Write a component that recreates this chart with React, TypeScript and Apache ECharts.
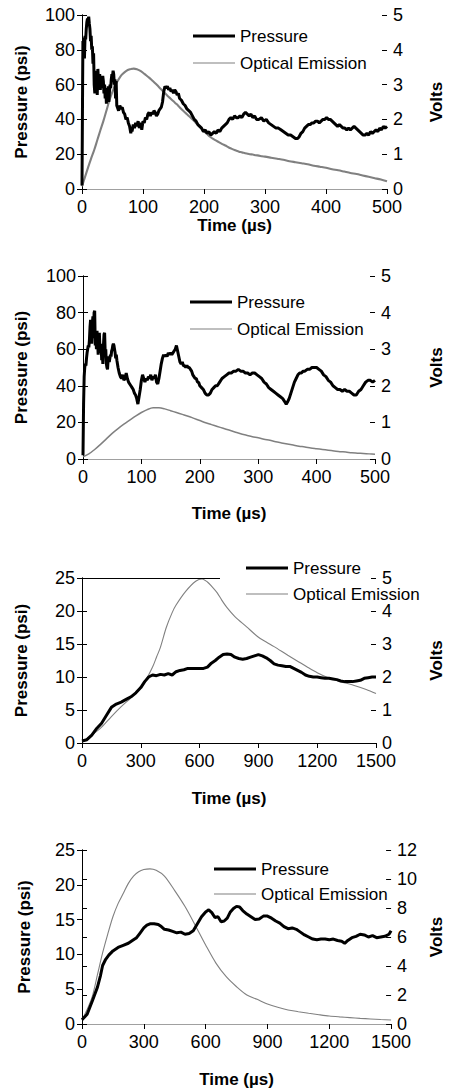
import React, { useEffect, useRef } from "react";
import * as echarts from "echarts";

// ---------- Data (time in µs, pressure in psi, optical emission in volts) ----------
const seriesNames = ["Pressure", "Optical Emission"];

const p1Pressure = [
  [0, 2], [0.5, 30], [1, 60], [1.5, 85], [2, 80], [3, 87], [4, 75], [5, 88], [6, 86], [7, 92], [8, 96], [9, 98], [10, 97], [11, 99], [12, 95], [13, 92], [14, 85], [15, 88], [16, 80], [17, 82], [18, 72], [19, 78], [20, 60], [21, 55], [22, 68], [23, 58], [24, 63], [25, 54], [26, 69], [27, 62], [28, 60], [29, 66], [30, 57], [31, 63], [32, 61], [33, 58], [34, 65], [35, 62], [36, 55], [37, 60], [38, 52], [39, 58], [40, 49], [41, 57], [42, 53], [43, 59], [44, 50], [45, 56], [46, 60], [47, 58], [48, 63], [49, 66], [50, 65], [51, 68], [52, 66], [53, 60], [54, 63], [55, 52], [56, 62], [57, 48], [58, 47], [60, 45], [62, 48], [64, 46], [66, 47], [68, 44], [70, 43], [72, 40], [74, 41], [76, 38], [78, 36], [80, 32], [81, 35], [82, 33], [84, 37], [86, 35], [88, 38], [90, 36], [92, 39], [94, 35], [96, 38], [98, 34], [100, 39], [102, 38], [104, 41], [106, 40], [108, 43], [110, 44], [112, 42], [114, 44], [116, 43], [118, 45], [120, 44], [122, 42], [124, 43], [126, 45], [128, 46], [130, 47], [132, 50], [134, 56], [136, 59], [138, 58], [140, 59], [142, 57], [144, 58], [146, 56], [148, 57], [150, 55], [152, 57], [154, 56], [156, 54], [158, 55], [160, 52], [163, 51], [166, 49], [169, 48], [172, 46], [175, 45], [178, 44], [181, 42], [184, 40], [187, 39], [190, 37], [193, 36], [196, 35], [199, 33], [202, 34], [205, 32], [208, 33], [211, 31], [214, 32], [217, 33], [220, 32], [223, 34], [226, 33], [229, 35], [232, 36], [235, 37], [238, 38], [241, 40], [244, 41], [247, 40], [250, 42], [253, 41], [256, 41], [259, 42], [262, 41], [265, 43], [268, 44], [271, 43], [274, 42], [277, 43], [280, 41], [283, 42], [286, 40], [290, 40], [294, 41], [298, 39], [302, 40], [306, 38], [310, 37], [314, 36], [318, 35], [322, 35], [326, 34], [330, 33], [334, 32], [338, 31], [342, 31], [346, 30], [350, 29], [353, 29], [356, 30], [359, 32], [362, 33], [365, 35], [368, 36], [371, 37], [374, 37], [377, 38], [380, 38], [383, 39], [386, 39], [389, 38], [392, 39], [395, 40], [398, 40], [401, 41], [404, 40], [407, 40], [410, 39], [413, 38], [416, 37], [419, 36], [422, 37], [425, 36], [428, 35], [431, 35], [434, 34], [437, 35], [440, 34], [443, 35], [446, 36], [449, 35], [452, 34], [455, 33], [458, 32], [461, 31], [464, 31], [467, 32], [470, 31], [473, 33], [476, 32], [479, 33], [482, 34], [485, 33], [488, 35], [491, 34], [494, 36], [497, 35], [500, 36],
];
const p1Optical = [
  [0, 0.08], [5, 0.35], [10, 0.62], [15, 0.88], [20, 1.12], [25, 1.4], [30, 1.68], [35, 1.95], [40, 2.25], [45, 2.55], [50, 2.8], [55, 3.0], [60, 3.15], [65, 3.28], [70, 3.36], [75, 3.42], [80, 3.45], [85, 3.46], [90, 3.44], [95, 3.4], [100, 3.34], [105, 3.27], [110, 3.2], [115, 3.12], [120, 3.04], [125, 2.95], [130, 2.86], [135, 2.77], [140, 2.68], [145, 2.6], [150, 2.52], [155, 2.44], [160, 2.35], [165, 2.26], [170, 2.18], [175, 2.1], [180, 2.02], [185, 1.93], [190, 1.84], [195, 1.75], [200, 1.66], [205, 1.58], [210, 1.5], [215, 1.44], [220, 1.39], [225, 1.34], [230, 1.29], [235, 1.25], [240, 1.2], [245, 1.16], [250, 1.12], [255, 1.09], [260, 1.06], [265, 1.04], [270, 1.02], [275, 1.0], [280, 0.99], [285, 0.97], [290, 0.96], [295, 0.94], [300, 0.93], [310, 0.9], [320, 0.87], [330, 0.84], [340, 0.8], [350, 0.77], [360, 0.74], [370, 0.71], [380, 0.67], [390, 0.64], [400, 0.61], [410, 0.57], [420, 0.54], [430, 0.5], [440, 0.46], [450, 0.43], [460, 0.39], [470, 0.35], [480, 0.31], [490, 0.27], [500, 0.22],
];

const p2Pressure = [
  [0, 2], [1, 30], [2, 45], [3, 50], [4, 52], [5, 51], [6, 55], [7, 58], [8, 60], [9, 62], [10, 61], [11, 65], [12, 72], [13, 76], [14, 70], [15, 63], [16, 74], [17, 78], [18, 66], [19, 80], [20, 81], [21, 62], [22, 68], [23, 60], [24, 70], [25, 64], [26, 57], [27, 66], [28, 69], [29, 60], [30, 58], [31, 63], [32, 54], [33, 60], [34, 52], [35, 62], [36, 68], [37, 69], [38, 58], [39, 60], [40, 52], [41, 50], [42, 49], [43, 54], [44, 56], [45, 53], [46, 55], [47, 57], [48, 56], [49, 59], [50, 60], [51, 62], [52, 63], [53, 62], [54, 60], [55, 58], [56, 55], [57, 57], [58, 54], [60, 50], [62, 47], [64, 45], [66, 44], [68, 46], [70, 43], [72, 44], [74, 47], [76, 44], [78, 42], [80, 41], [82, 40], [84, 39], [86, 38], [88, 36], [90, 35], [92, 33], [94, 30], [96, 34], [98, 38], [100, 43], [102, 46], [104, 44], [106, 42], [108, 44], [110, 43], [112, 45], [114, 44], [116, 46], [118, 43], [120, 45], [122, 44], [124, 46], [126, 42], [128, 41], [130, 44], [132, 48], [134, 52], [136, 55], [138, 57], [140, 56], [142, 57], [144, 56], [146, 58], [148, 57], [150, 58], [152, 57], [154, 58], [156, 59], [158, 60], [160, 62], [162, 59], [164, 56], [166, 53], [168, 52], [170, 53], [172, 51], [174, 51], [176, 50], [178, 51], [180, 50], [182, 50], [184, 49], [186, 48], [188, 46], [190, 45], [192, 44], [194, 44], [196, 42], [198, 42], [200, 40], [203, 39], [206, 38], [209, 36], [212, 35], [215, 35], [218, 36], [221, 38], [224, 39], [227, 40], [230, 40], [234, 42], [238, 44], [242, 45], [246, 46], [250, 47], [254, 47], [258, 48], [262, 48], [266, 49], [270, 48], [274, 48], [278, 47], [282, 47], [286, 46], [290, 47], [294, 47], [298, 46], [302, 45], [306, 44], [310, 42], [314, 41], [318, 39], [322, 38], [326, 37], [330, 36], [334, 35], [338, 34], [342, 33], [346, 31], [348, 30], [350, 31], [353, 33], [356, 36], [359, 39], [362, 42], [365, 44], [368, 46], [371, 47], [374, 47], [377, 48], [380, 48], [384, 49], [388, 49], [392, 50], [396, 50], [400, 50], [404, 49], [408, 48], [412, 46], [416, 45], [420, 43], [424, 42], [428, 40], [432, 39], [436, 38], [440, 38], [444, 37], [448, 38], [452, 37], [456, 37], [460, 36], [464, 35], [468, 35], [472, 37], [476, 38], [480, 40], [484, 42], [488, 43], [492, 43], [496, 42], [500, 43],
];
const p2Optical = [
  [0, 0.06], [10, 0.14], [20, 0.26], [30, 0.4], [40, 0.55], [50, 0.7], [60, 0.83], [70, 0.95], [80, 1.06], [90, 1.17], [100, 1.27], [110, 1.35], [120, 1.4], [130, 1.4], [140, 1.37], [150, 1.32], [160, 1.27], [170, 1.22], [180, 1.17], [190, 1.11], [200, 1.05], [210, 0.99], [220, 0.94], [230, 0.89], [240, 0.84], [250, 0.79], [260, 0.74], [270, 0.69], [280, 0.65], [290, 0.61], [300, 0.58], [310, 0.54], [320, 0.51], [330, 0.47], [340, 0.44], [350, 0.41], [360, 0.38], [370, 0.35], [380, 0.33], [390, 0.3], [400, 0.28], [410, 0.26], [420, 0.24], [430, 0.22], [440, 0.2], [450, 0.19], [460, 0.17], [470, 0.16], [480, 0.15], [490, 0.14], [500, 0.13],
];

const p3Pressure = [
  [0, 0.3], [25, 0.5], [50, 1.2], [75, 2.2], [100, 3.0], [125, 4.2], [150, 5.4], [175, 5.9], [200, 6.2], [225, 6.6], [250, 7.0], [275, 7.6], [300, 8.4], [320, 9.3], [340, 10.0], [360, 10.3], [380, 10.2], [400, 10.4], [420, 10.3], [440, 10.5], [460, 10.3], [480, 10.8], [500, 11.0], [520, 11.1], [540, 11.3], [560, 11.3], [580, 11.3], [600, 11.3], [620, 11.3], [640, 11.5], [660, 12.1], [680, 12.5], [700, 13.0], [720, 13.4], [740, 13.5], [760, 13.4], [780, 13.0], [800, 12.8], [820, 12.7], [840, 12.8], [860, 13.0], [880, 13.2], [900, 13.4], [920, 13.2], [940, 12.9], [960, 12.5], [980, 12.0], [1000, 11.8], [1020, 11.7], [1040, 11.6], [1060, 11.6], [1080, 11.3], [1100, 11.0], [1120, 10.7], [1140, 10.3], [1160, 10.1], [1180, 10.0], [1200, 10.0], [1220, 9.9], [1240, 9.8], [1260, 9.8], [1280, 9.7], [1300, 9.6], [1320, 9.4], [1340, 9.3], [1360, 9.3], [1380, 9.3], [1400, 9.4], [1420, 9.5], [1440, 9.8], [1460, 9.9], [1480, 10.0], [1500, 10.0],
];
const p3Optical = [
  [0, 0.04], [50, 0.24], [100, 0.48], [150, 0.8], [200, 1.1], [250, 1.37], [300, 1.66], [330, 1.95], [360, 2.3], [380, 2.6], [400, 2.9], [430, 3.5], [460, 3.95], [480, 4.18], [530, 4.6], [580, 4.9], [613, 4.97], [640, 4.88], [663, 4.74], [690, 4.55], [713, 4.33], [740, 4.1], [780, 3.83], [840, 3.52], [897, 3.22], [940, 3.06], [980, 2.92], [1050, 2.66], [1100, 2.48], [1147, 2.31], [1200, 2.13], [1263, 1.96], [1320, 1.86], [1397, 1.73], [1450, 1.62], [1500, 1.5],
];

const p4Pressure = [
  [0, 0.6], [25, 1.4], [50, 3.3], [75, 5.3], [90, 7.0], [100, 8.4], [115, 9.3], [130, 9.9], [150, 10.5], [175, 11.0], [200, 11.3], [225, 11.6], [250, 12.1], [265, 12.4], [280, 13.0], [300, 13.8], [315, 14.2], [330, 14.4], [350, 14.4], [370, 14.3], [385, 14.0], [400, 13.6], [420, 13.5], [440, 13.3], [460, 13.1], [480, 13.2], [500, 12.9], [520, 13.0], [540, 13.4], [560, 14.4], [580, 15.4], [600, 16.1], [615, 16.4], [630, 16.0], [645, 15.3], [660, 15.4], [675, 14.7], [690, 14.8], [705, 15.2], [720, 16.1], [735, 16.6], [750, 16.9], [765, 16.8], [780, 16.3], [800, 15.8], [820, 15.4], [840, 15.0], [860, 15.1], [880, 15.5], [900, 15.5], [920, 15.2], [940, 14.8], [960, 14.5], [980, 14.0], [1000, 13.7], [1020, 13.8], [1040, 13.6], [1060, 13.2], [1080, 12.8], [1100, 12.5], [1120, 12.2], [1140, 12.1], [1160, 12.2], [1180, 12.2], [1200, 12.1], [1220, 12.2], [1240, 12.0], [1260, 11.9], [1275, 11.6], [1290, 12.0], [1310, 12.4], [1330, 12.6], [1350, 12.9], [1370, 12.8], [1390, 12.5], [1410, 12.7], [1430, 12.4], [1450, 12.5], [1470, 12.6], [1490, 12.9], [1500, 13.4],
];
const p4Optical = [
  [0, 0.28], [25, 1.0], [50, 1.9], [75, 3.4], [100, 4.9], [125, 6.2], [150, 7.4], [175, 8.3], [200, 9.0], [225, 9.7], [250, 10.2], [275, 10.5], [300, 10.65], [330, 10.7], [360, 10.6], [400, 10.2], [450, 9.2], [500, 8.1], [550, 6.8], [600, 5.45], [650, 4.2], [700, 3.26], [750, 2.57], [800, 2.0], [850, 1.7], [900, 1.38], [950, 1.15], [1000, 0.97], [1050, 0.85], [1100, 0.74], [1150, 0.64], [1200, 0.55], [1250, 0.49], [1300, 0.44], [1350, 0.39], [1400, 0.35], [1450, 0.31], [1500, 0.28],
];

// axis ranges
const timeShort = { max: 500, interval: 100 };
const timeLong = { max: 1500, interval: 300 };
const psiHigh = { max: 100, interval: 20 };
const psiLow = { max: 25, interval: 5 };
const volts5 = { max: 5, interval: 1 };
const volts12 = { max: 12, interval: 2 };

const FONT = "'Liberation Sans', Arial, Helvetica, sans-serif";
const PRESSURE_ICON = "path://M0,0h40v3h-40z";
const OPTICAL_ICON = "path://M0,0h40v1.1h-40z";

interface Panel {
  grid: { left: number; top: number; width: number; height: number };
  time: { max: number; interval: number };
  psi: { max: number; interval: number };
  volts: { max: number; interval: number };
  pressure: number[][];
  optical: number[][];
  opticalWidth: number;
  topBorder: boolean;
  leftGap: number;
  rightGap: number;
  timeGap: number;
  legend: { left: number; top: number; gap: number };
}

const panels: Panel[] = [
  {
    grid: { left: 82, top: 15, width: 310, height: 174 },
    time: timeShort, psi: psiHigh, volts: volts5,
    pressure: p1Pressure, optical: p1Optical, opticalWidth: 2.1, topBorder: true,
    leftGap: 52, rightGap: 41, timeGap: 28,
    legend: { left: 193, top: 27.5, gap: 10 },
  },
  {
    grid: { left: 83, top: 276, width: 300, height: 183 },
    time: timeShort, psi: psiHigh, volts: volts5,
    pressure: p2Pressure, optical: p2Optical, opticalWidth: 1.5, topBorder: true,
    leftGap: 53, rightGap: 53, timeGap: 46,
    legend: { left: 190, top: 293.5, gap: 10 },
  },
  {
    grid: { left: 82, top: 578, width: 301, height: 165 },
    time: timeLong, psi: psiLow, volts: volts5,
    pressure: p3Pressure, optical: p3Optical, opticalWidth: 1.1, topBorder: false,
    leftGap: 52, rightGap: 52, timeGap: 47,
    legend: { left: 246, top: 559.5, gap: 9 },
  },
  {
    grid: { left: 82, top: 850, width: 322, height: 174 },
    time: timeLong, psi: psiLow, volts: volts12,
    pressure: p4Pressure, optical: p4Optical, opticalWidth: 1.1, topBorder: true,
    leftGap: 49, rightGap: 36, timeGap: 47,
    legend: { left: 214, top: 860.5, gap: 8 },
  },
];

function buildOption() {
  const grid: any[] = [];
  const xAxis: any[] = [];
  const yAxis: any[] = [];
  const series: any[] = [];
  const legend: any[] = [];
  const plain = (v: number) => String(v);
  const tickLabel = { color: "#000", fontSize: 18, fontFamily: FONT, formatter: plain };
  const nameStyle = { color: "#000", fontSize: 17, fontWeight: "bold", fontFamily: FONT };
  const axisLine = { show: true, lineStyle: { color: "#000", width: 1 } };

  panels.forEach((p, i) => {
    grid.push({ ...p.grid, containLabel: false });
    xAxis.push({
      type: "value", gridIndex: i, min: 0, max: p.time.max, interval: p.time.interval,
      position: "bottom",
      name: "Time (µs)", nameLocation: "middle", nameGap: p.timeGap, nameTextStyle: nameStyle,
      axisLine, axisTick: { show: true, length: 5, lineStyle: { color: "#000" } },
      axisLabel: { ...tickLabel, margin: 9 },
      splitLine: { show: false },
    });
    xAxis.push({
      type: "value", gridIndex: i, min: 0, max: p.time.max, interval: p.time.interval,
      position: "top",
      axisLine: { show: p.topBorder, lineStyle: { color: "#a0a0a0", width: 1.2 } },
      axisTick: { show: false }, axisLabel: { show: false }, splitLine: { show: false },
    });
    yAxis.push({
      type: "value", gridIndex: i, min: 0, max: p.psi.max, interval: p.psi.interval,
      position: "left",
      name: "Pressure (psi)", nameLocation: "middle", nameGap: p.leftGap, nameTextStyle: nameStyle,
      axisLine, axisTick: { show: true, length: 5, lineStyle: { color: "#000" } },
      axisLabel: { ...tickLabel, margin: 7 },
      splitLine: { show: false },
    });
    yAxis.push({
      type: "value", gridIndex: i, min: 0, max: p.volts.max, interval: p.volts.interval,
      position: "right",
      name: "Volts", nameLocation: "middle", nameGap: p.rightGap, nameRotate: 90,
      nameTextStyle: nameStyle,
      axisLine, axisTick: { show: true, length: 5, lineStyle: { color: "#000" } },
      axisLabel: { ...tickLabel, margin: 6 },
      splitLine: { show: false },
    });
    yAxis.push({
      type: "value", gridIndex: i, min: 0, max: p.volts.max, interval: p.volts.interval,
      position: "right",
      axisLine: { show: false },
      axisTick: { show: true, inside: true, length: 5, lineStyle: { color: "#000" } },
      axisLabel: { show: false }, splitLine: { show: false },
    });
    series.push({
      name: seriesNames[0], type: "line", xAxisIndex: 2 * i, yAxisIndex: 3 * i,
      data: p.pressure, symbol: "none", showSymbol: false,
      lineStyle: { color: "#000", width: 3 }, itemStyle: { color: "#000" },
      z: 3,
    });
    series.push({
      name: seriesNames[1], type: "line", xAxisIndex: 2 * i, yAxisIndex: 3 * i + 1,
      data: p.optical, symbol: "none", showSymbol: false, smooth: 0.3,
      lineStyle: { color: "#808080", width: p.opticalWidth }, itemStyle: { color: "#808080" },
      z: 2,
    });
    legend.push({
      data: [
        { name: seriesNames[0], icon: PRESSURE_ICON, itemStyle: { color: "#000" } },
        { name: seriesNames[1], icon: OPTICAL_ICON, itemStyle: { color: "#808080" } },
      ],
      orient: "vertical", left: p.legend.left, top: p.legend.top,
      padding: 0, itemGap: p.legend.gap, itemWidth: 42, itemHeight: 14,
      symbolKeepAspect: true,
      textStyle: { color: "#000", fontSize: 17, fontFamily: FONT, lineHeight: 17 },
      selectedMode: false,
    });
  });

  return {
    animation: false,
    backgroundColor: "#fff",
    textStyle: { fontFamily: FONT },
    grid, xAxis, yAxis, series, legend,
    graphic: [
      {
        type: "line",
        shape: { x1: 82, y1: 578.5, x2: 220, y2: 578.5 },
        style: { stroke: "#000", lineWidth: 1 },
        z: 10,
      },
    ],
  };
}

export default function App() {
  const ref = useRef<HTMLDivElement>(null);
  useEffect(() => {
    document.body.style.margin = "0";
    if (!ref.current) return;
    const chart = echarts.init(ref.current, undefined, { renderer: "svg" });
    chart.setOption(buildOption() as any);
    return () => chart.dispose();
  }, []);
  return <div ref={ref} style={{ width: 453, height: 1092 }} />;
}
